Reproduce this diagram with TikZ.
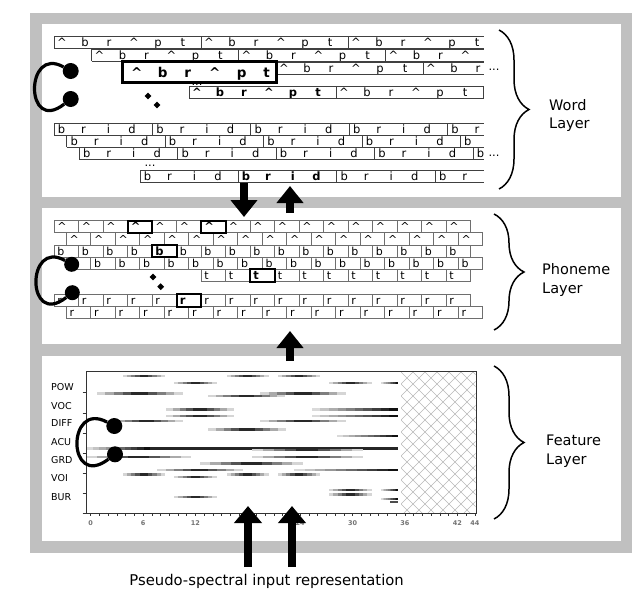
\documentclass[tikz,border=0pt]{standalone}
\usepackage{fontspec}
\setmainfont{DejaVu Sans}
\usetikzlibrary{arrows.meta,shapes.geometric,decorations.pathreplacing}
\definecolor{framegray}{RGB}{192,192,192}
\definecolor{boxgray}{RGB}{110,110,110}
\definecolor{hatchgray}{RGB}{185,185,185}
\tikzset{
  wline/.style={draw=black!75, line width=0.75pt},
  pline/.style={draw=boxgray, line width=0.8pt},
  wl/.style={inner sep=0pt, anchor=base, font=\fontsize{11.5}{12}\selectfont},
  wlb/.style={inner sep=0pt, anchor=base, font=\fontsize{11.5}{12}\selectfont\bfseries},
  wbig/.style={inner sep=0pt, anchor=base, font=\fontsize{13.5}{14}\selectfont\bfseries},
  pl/.style={inner sep=0pt, anchor=base west, font=\fontsize{11}{12}\selectfont},
  plb/.style={inner sep=0pt, anchor=base west, font=\fontsize{11.5}{12}\selectfont\bfseries},
  bigbox/.style={draw=black, line width=3pt},
  pbold/.style={draw=black, line width=2pt, fill=white},
  bulb/.style={circle, fill=black, minimum size=16pt, inner sep=0pt},
  loopline/.style={line width=3.2pt, draw=black},
  dia/.style={diamond, fill=black, minimum size=7pt, inner sep=0pt},
  bigarrow/.style={line width=8pt, -{Triangle[width=26pt,length=17pt]}},
  lbl/.style={anchor=base west, inner sep=0pt, font=\fontsize{14.5}{16}\selectfont},
  brc/.style={decorate, decoration={brace, amplitude=30pt}, line width=1.5pt},
  featlbl/.style={anchor=west, inner sep=0pt, font=\fontsize{9.5}{10}\selectfont},
  tickl/.style={inner sep=0pt, font=\fontsize{6.5}{7}\selectfont\bfseries, text=black!55},
  hatchln/.style={draw=hatchgray, line width=0.5pt},
  axisln/.style={draw=black!80, line width=0.8pt},
}
% one "^ b r ^ p t" word copy (letters only where the row is visible)
\newcommand\aptseg[4]{%
  \foreach \lt/\o [count=\i] in {\textasciicircum/8,b/31,r/55,\textasciicircum/80,p/104,t/129}{%
    \pgfmathsetmacro\xx{#1+\o}%
    \ifdim\xx pt<484pt\relax\node[#3] (#4-\i) at (\xx,{#2+10}) {\lt};\fi}}
% one "b r i d" word copy
\newcommand\bridseg[4]{%
  \foreach \lt/\o [count=\i] in {b/7.5,r/29.5,i/54.5,d/78}{%
    \pgfmathsetmacro\xx{#1+\o}%
    \ifdim\xx pt<484pt\relax\node[#3] (#4-\i) at (\xx,{#2+10}) {\lt};\fi}}
% a word row: x0, ytop, seg width, last seg index, seg macro, name, bold seg index
\newcommand\wordrow[7]{%
  \begin{scope}
    \clip (#1-2,#2-2) rectangle (484.4,#2+15);
    \foreach \s in {0,...,#4} {
      \ifnum\s=#7\relax\tikzset{wcur/.style={wlb}}\else\tikzset{wcur/.style={wl}}\fi
      \draw[wline] ({#1+#3*\s},#2) -- ++(0,12);
      #5{#1+#3*\s}{#2}{wcur}{#6-\s}
    }
  \end{scope}
  \draw[wline] (#1,#2) -- (484,#2) (#1,#2+12) -- (484,#2+12);
}
% a phoneme row: x0, ytop, count, letter, name, height
\newcommand\phonrow[6]{%
  \foreach \k in {1,...,#3} {
    \draw[pline] ({#1+24.5*(\k-1)},#2) rectangle ++(24.5,#6);
    \node[pl] (#5-\k) at ({#1+24.5*(\k-1)+3.2},{#2+#6-1.8}) {#4};
  }}
\newcommand\pboldbox[5]{%
  \draw[pbold] (#1,#2) rectangle ++(24.5,#3);
  \node[plb] (#5) at ({#1+3.2},{#2+#3-1.8}) {#4};}
% feature bars: stepped grey, dark in the middle (fbm) or dark at the right end (fbr)
\newcommand\fbm[3]{%
  \foreach \k in {0,...,9}{%
    \pgfmathsetmacro\v{8+85*(1-abs(2*(\k+0.5)/10-1))}%
    \fill[black!\v] ({#1+(#2-#1)*\k/10},#3-1.2) rectangle ({#1+(#2-#1)*(\k+1)/10+0.3},#3+1.2);}}
\newcommand\fbr[3]{%
  \foreach \k in {0,...,9}{%
    \pgfmathsetmacro\v{10+88*(\k+0.5)/10}%
    \fill[black!\v] ({#1+(#2-#1)*\k/10},#3-1.2) rectangle ({min(#2,#1+(#2-#1)*(\k+1)/10+0.3)},#3+1.2);}}

\begin{document}
\begin{tikzpicture}[x=1pt,y=-1pt]
\useasboundingbox (0,0) rectangle (644,608);
% frame and panels
\fill[framegray] (30,13) rectangle (632,553);
\fill[white] (42,24) rectangle (621,197);
\fill[white] (42,208) rectangle (621,344);
\fill[white] (42,356) rectangle (621,541);

% ================= WORD LAYER =================
\wordrow{54}{36}{147}{3}{\aptseg}{wa}{-1}
\wordrow{91.5}{49}{147}{3}{\aptseg}{wb}{-1}
\wordrow{276}{62}{147}{2}{\aptseg}{wc}{-1}
\wordrow{189}{86}{147}{3}{\aptseg}{wd}{0}
\wordrow{54}{123}{98.4}{5}{\bridseg}{we}{-1}
\wordrow{66.7}{135}{98.4}{5}{\bridseg}{wf}{-1}
\wordrow{79.3}{147}{98.4}{5}{\bridseg}{wg}{-1}
\wordrow{140}{170}{98.4}{4}{\bridseg}{wh}{1}
\node[wl] (wdots0) at (197,85) {...};
\draw[bigbox] (122.7,61) rectangle (276,82);
\foreach \lt/\o [count=\i] in {\textasciicircum/14,b/40,r/65,\textasciicircum/92,p/119,t/144}
  \node[wbig] (wbig-\i) at ({122.7+\o},77.3) {\lt};
\node[wl] (wdots1) at (494,70) {...};
\node[wl] (wdots2) at (494,156) {...};
\node[wl] (wdots3) at (150,166) {...};
\node[dia] (wdia1) at (148,96) {};
\node[dia] (wdia2) at (157,105) {};
\node[bulb] (wc1) at (70.7,71) {};
\node[bulb] (wc2) at (70.7,99) {};
\draw[loopline] (wc1) .. controls +(-46,-26) and +(-46,36) .. (wc2);
\draw[brc] (499,30) -- (499,189);
\node[lbl] (wordl1) at (549,110) {Word};
\node[lbl] (wordl2) at (549,128) {Layer};

% ================= PHONEME LAYER =================
\phonrow{54}{220.5}{17}{\textasciicircum}{pa}{12.2}
\phonrow{66.25}{232.7}{17}{\textasciicircum}{pb}{12.2}
\phonrow{54}{244.9}{17}{b}{pc}{12.2}
\phonrow{66.25}{257.1}{17}{b}{pd}{12.2}
\phonrow{201}{269.3}{11}{t}{pe}{12.2}
\phonrow{54}{294.3}{17}{r}{pf}{12.2}
\phonrow{66.25}{306.5}{17}{r}{pg}{12.2}
\pboldbox{127.5}{220.5}{12.2}{\textasciicircum}{pbold1}
\pboldbox{201}{220.5}{12.2}{\textasciicircum}{pbold2}
\pboldbox{152}{244.9}{12.2}{b}{pbold3}
\pboldbox{250}{269.3}{12.2}{t}{pbold4}
\pboldbox{176.5}{294.3}{12.2}{r}{pbold5}
\node[dia] (pdia1) at (153,277) {};
\node[dia] (pdia2) at (160.7,286.7) {};
\node[bulb, minimum size=15pt] (pc1) at (71.7,264.3) {};
\node[bulb, minimum size=15pt] (pc2) at (72.3,292.7) {};
\draw[loopline] (pc1) .. controls +(-46,-26) and +(-46,36) .. (pc2);
\draw[brc] (494,214) -- (494,330);
\node[lbl] (phonl1) at (542,274) {Phoneme};
\node[lbl] (phonl2) at (542,293) {Layer};

% ================= FEATURE LAYER =================
% hatch
\begin{scope}
  \clip (401,372.2) rectangle (475.6,512.9);
  \foreach \k in {-14,...,20} {
    \draw[hatchln] ({401+12*\k},372) -- ++(150,150);
    \draw[hatchln] ({401+12*\k},372) -- ++(-150,150);
  }
\end{scope}
% bars
\fbm{122.7}{165}{375.7}\fbm{226.7}{268.3}{375.7}\fbm{278}{320}{375.7}
\fbm{174}{216.7}{382.7}\fbm{329}{371.7}{382.7}\fbr{381}{398}{382.7}
\fbm{96.7}{182.7}{393.3}\fbm{208}{285}{396}\fbm{260}{346}{393.3}
\fbm{166}{234}{409.3}\fbr{311.7}{398}{409.3}
\fbm{166}{234}{416}\fbr{311.7}{398}{416}
\fbm{110}{182.7}{421}\fbm{260}{346}{421}
\fbm{208}{286}{429.3}
\fbr{337}{398}{436}
\fbr{86.7}{150}{448.3}
\fill[black!85] (150,447.1) rectangle (398,449.5);
\fbm{251.7}{363}{449.8}
\fbm{86.7}{191}{456.7}\fbm{251.7}{363}{456.7}
\fbm{200}{302.7}{463.3}
\fbm{157}{242.7}{470}\fbr{294.3}{398}{470}
\fbm{122.7}{165}{474.3}\fbm{174}{216.7}{476.7}\fbm{226.7}{268.3}{474.3}\fbm{277.7}{320}{474.3}
\fbm{329}{371.7}{490}\fbr{381}{398}{490}
\fbm{329}{371.7}{494.3}
\fbm{174}{216.7}{496.7}
\fbr{381}{398}{499}\fill[black!70] (390,500.5) rectangle (398,502.5);
% axes
\draw[axisln] (86.7,371.7) rectangle (476,513.3);
\foreach \y in {392.7,412.9,433.1,453.3,473.3,493.3,513.3}
  \draw[axisln] (82.7,\y) -- (86.7,\y);
\foreach \t in {0,...,44}
  \draw[axisln, line width=0.6pt] ({90.7+8.73*\t},513.3) -- ++(0,3);
\foreach \t in {0,6,...,42}
  \node[tickl] (tick\t) at ({90.7+8.73*\t},523.3) {\t};
\node[tickl] (tick44) at ({90.7+8.73*44},523.3) {44};
\node[featlbl] (fpow) at (51,386.7) {POW};
\node[featlbl] (fvoc) at (51,406) {VOC};
\node[featlbl] (fdiff) at (51,423) {DIFF};
\node[featlbl] (facu) at (51,441.7) {ACU};
\node[featlbl] (fgrd) at (51,460) {GRD};
\node[featlbl] (fvoi) at (51,478) {VOI};
\node[featlbl] (fbur) at (51,496.7) {BUR};
\node[bulb] (fc1) at (114.3,426) {};
\node[bulb] (fc2) at (115,454.3) {};
\draw[loopline] (fc1) .. controls +(-48,-26) and +(-48,36) .. (fc2);
\draw[brc] (494,366) -- (494,519);
\node[lbl] (featl1) at (546,445.5) {Feature};
\node[lbl] (featl2) at (546,464.5) {Layer};

% ================= ARROWS =================
\coordinate (dn1) at (244,183); \coordinate (dn2) at (244,217);
\coordinate (up1a) at (290,213); \coordinate (up1b) at (290,186);
\coordinate (up2a) at (290,361); \coordinate (up2b) at (290,331);
\coordinate (in1a) at (248,567); \coordinate (in1b) at (248,506);
\coordinate (in2a) at (292,567); \coordinate (in2b) at (292,506);
\draw[bigarrow] (dn1) -- (dn2);
\draw[bigarrow] (up1a) -- (up1b);
\draw[bigarrow] (up2a) -- (up2b);
\draw[bigarrow, -{Triangle[width=27pt,length=17pt]}] (in1a) -- (in1b);
\draw[bigarrow, -{Triangle[width=27pt,length=17pt]}] (in2a) -- (in2b);
\node[anchor=base, inner sep=0pt, font=\fontsize{14.8}{16}\selectfont] (inputlbl) at (266.6,585) {Pseudo-spectral input representation};
\end{tikzpicture}
\end{document}
